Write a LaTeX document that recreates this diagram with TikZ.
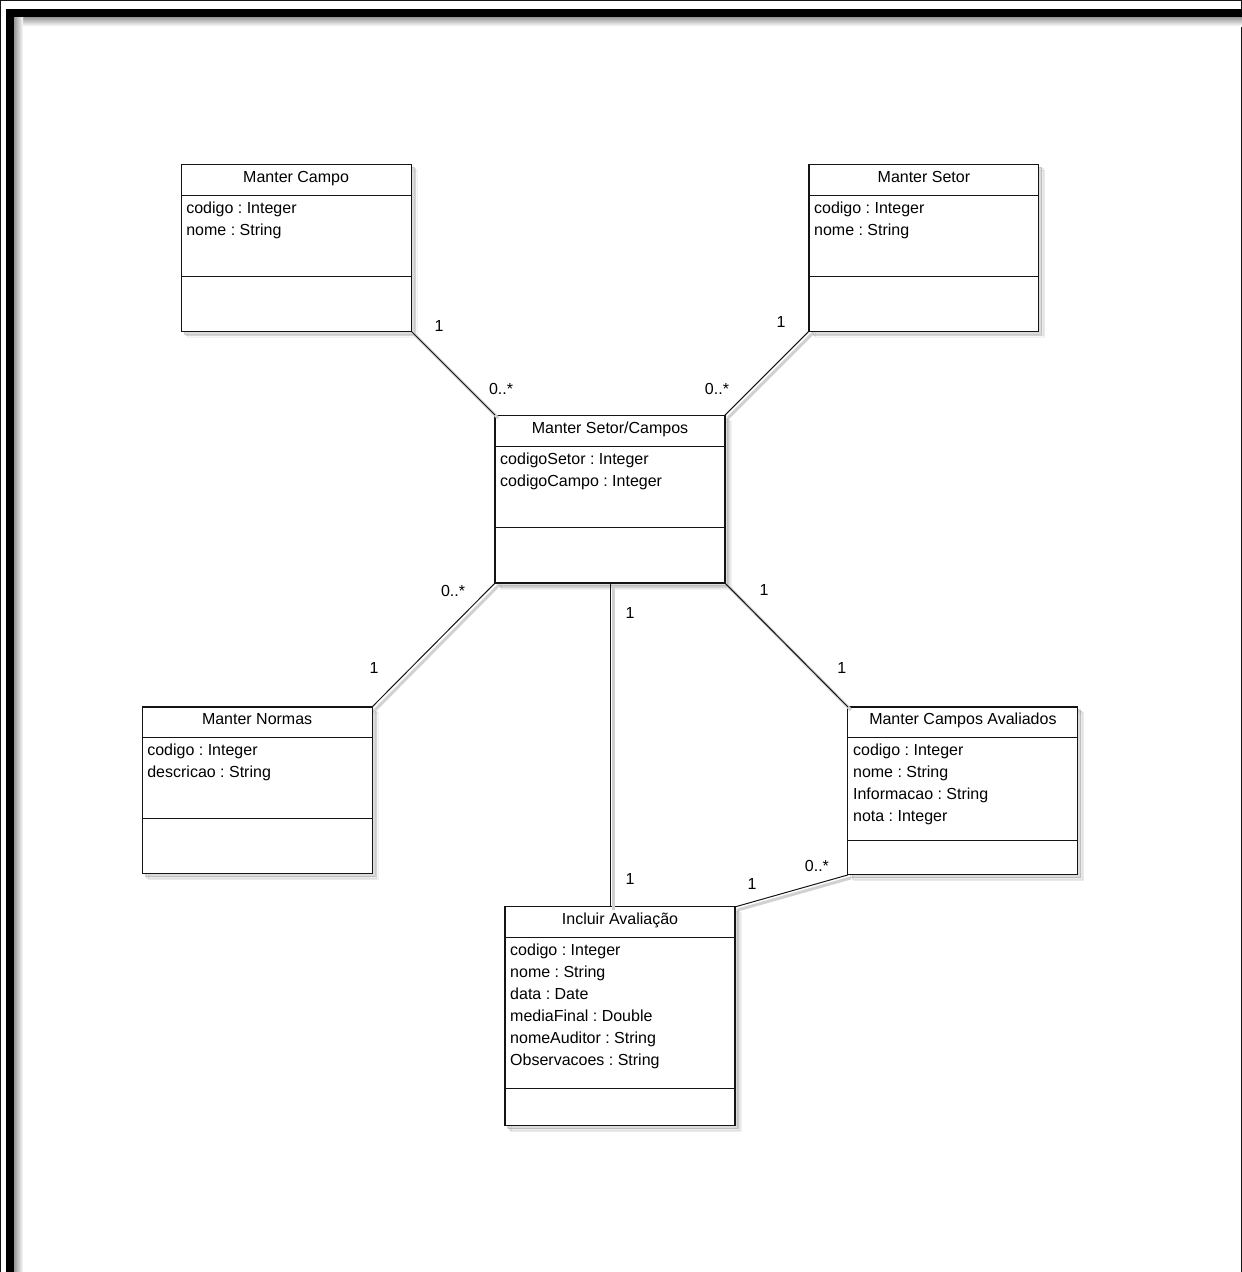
\documentclass[tikz,border=0pt]{standalone}
\usepackage{fontspec}
\setmainfont{Liberation Sans}
\frenchspacing
\usetikzlibrary{calc,shadows}
\definecolor{boxedgecolor}{RGB}{20,20,20}
\tikzstyle{every path}=[draw=boxedgecolor]
\tikzstyle{classbox}=[rectangle,draw,fill=white,line width=1.1pt,minimum width=230pt,inner sep=0pt,outer sep=0pt,anchor=north west,
    drop shadow={shadow xshift=6pt,shadow yshift=-6pt,opacity=0.06},
    drop shadow={shadow xshift=4.5pt,shadow yshift=-4.5pt,opacity=0.1},
    drop shadow={shadow xshift=3pt,shadow yshift=-3pt,opacity=0.15}]
\tikzstyle{classtitle}=[inner sep=0pt,anchor=base,font=\fontsize{16}{19}\selectfont]
\tikzstyle{classattr}=[inner sep=0pt,anchor=base west,font=\fontsize{16}{19}\selectfont]
\tikzstyle{mult}=[inner sep=0pt,font=\fontsize{16}{19}\selectfont]
\tikzstyle{link}=[line width=1pt,preaction={draw=black!18,line width=3pt,transform canvas={xshift=3pt,yshift=-3pt}}]

% name, x, y, height, divider, title, attributes
\newcommand{\umlclass}[7]{%
    \node[classbox, minimum height=#4pt] (#1) at (#2,#3) {};
    \draw[line width=1pt] ([shift={(0,31)}]#1.north west) -- ([shift={(0,31)}]#1.north east);
    \draw[line width=1pt] ([shift={(0,#5)}]#1.north west) -- ([shift={(0,#5)}]#1.north east);
    \node[classtitle] (#1-title) at ([shift={(0,18)}]#1.north) {#6};
    \foreach \attr [count=\i] in {#7}
        \node[classattr] (#1-attr-\i) at ([shift={(5,{49+22*(\i-1)})}]#1.north west) {\attr};
}

\begin{document}
\begin{tikzpicture}[x=1pt,y=-1pt]
    \useasboundingbox (0,0) rectangle (1241,1272);

    % frame
    \shade[top color=black!40,bottom color=white,draw=none] (14,17) rectangle (1250,26);
    \shade[left color=black!40,right color=white,draw=none] (14,17) rectangle (23,1280);
    \draw[line width=8pt,black] (6,13) -- (1250,13);
    \draw[line width=8pt,black] (10,9) -- (10,1280);

    % classes
    \umlclass{campo}{181}{164}{167}{112}{Manter Campo}{codigo : Integer, nome : String}
    \umlclass{setor}{809}{164}{167}{112}{Manter Setor}{codigo : Integer, nome : String}
    \umlclass{setorcampos}{495}{415}{168}{112}{Manter Setor/Campos}{codigoSetor : Integer, codigoCampo : Integer}
    \umlclass{normas}{142}{707}{167}{112}{Manter Normas}{codigo : Integer, descricao : String}
    \umlclass{avaliados}{848}{707}{168}{134}{Manter Campos Avaliados}{codigo : Integer, nome : String, Informacao : String, nota : Integer}
    \umlclass{incluir}{505}{907}{219}{182}{Incluir Avaliação}{codigo : Integer, nome : String, data : Date, mediaFinal : Double, nomeAuditor : String, Observacoes : String}

    % associations
    \draw[link] (campo.south east) -- (setorcampos.north west);
    \node[mult] at ([shift={(28,-5)}]campo.south east) {1};
    \node[mult] at ([shift={(6,-26)}]setorcampos.north west) {0..*};

    \draw[link] (setor.south west) -- (setorcampos.north east);
    \node[mult] at ([shift={(-28,-9)}]setor.south west) {1};
    \node[mult] at ([shift={(-8,-26)}]setorcampos.north east) {0..*};

    \draw[link] (setorcampos.south west) -- (normas.north east);
    \node[mult] at ([shift={(-42,8)}]setorcampos.south west) {0..*};
    \node[mult] at ([shift={(2,-39)}]normas.north east) {1};

    \draw[link] (setorcampos.south east) -- (avaliados.north west);
    \node[mult] at ([shift={(39,7)}]setorcampos.south east) {1};
    \node[mult] at ([shift={(-6,-39)}]avaliados.north west) {1};

    \draw[link] (setorcampos.south) -- (setorcampos.south |- incluir.north);
    \node[mult] at ([shift={(20,30)}]setorcampos.south) {1};
    \node[mult] at ([shift={(10,-28)}]incluir.north) {1};

    \draw[link] (incluir.north east) -- (avaliados.south west);
    \node[mult] at ([shift={(17,-23)}]incluir.north east) {1};
    \node[mult] at ([shift={(-31,-9)}]avaliados.south west) {0..*};
\end{tikzpicture}
\end{document}
